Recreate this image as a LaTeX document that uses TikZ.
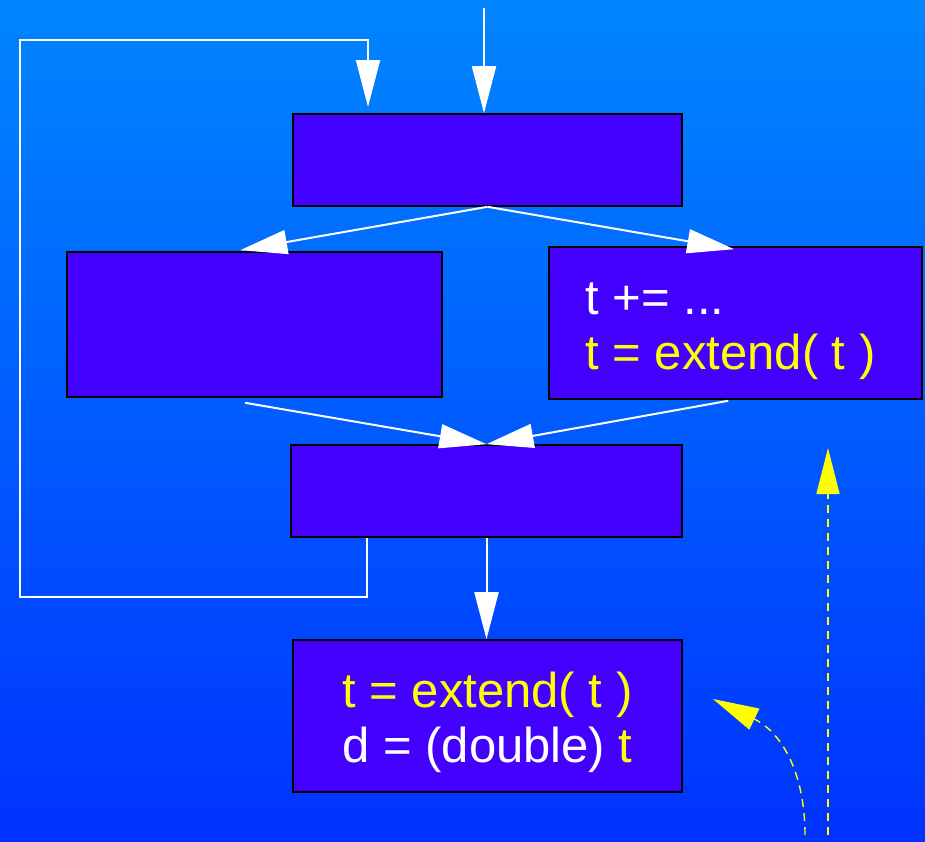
\documentclass[tikz,border=0pt]{standalone}
\usepackage{fontspec}
\setmainfont{Liberation Sans}
\usetikzlibrary{arrows.meta,calc}
\definecolor{bgtop}{RGB}{0,134,255}
\definecolor{bgbot}{RGB}{0,50,255}
\definecolor{boxfill}{RGB}{68,0,255}
\definecolor{codeyellow}{RGB}{255,255,0}
\newcommand{\ystrut}{\rule{0pt}{24.5pt}}
\begin{document}
\begin{tikzpicture}[x=0.5pt,y=-0.5pt,
  box/.style={draw=black,line width=0.8pt,fill=boxfill,rectangle,inner sep=0pt,
    font=\fontsize{24.5pt}{27.5pt}\selectfont,text=white,align=left},
  flow/.style={draw=white,line width=1pt,-{Triangle[length=23.5pt,width=12pt]}},
  hint/.style={draw=codeyellow,line width=0.7pt,dash pattern=on 4pt off 3pt,
    -{Triangle[length=23pt,width=11.5pt]}}]
\shade[top color=bgtop,bottom color=bgbot] (0,0) rectangle (925,841);
\useasboundingbox (0,0) rectangle (925,841);
\node[box,minimum width=194.5pt,minimum height=46pt] (box1) at (487.5,160) {};
\node[box,minimum width=187.5pt,minimum height=72.5pt] (box2) at (254.5,324.5) {};
\node[box,minimum width=186.5pt,minimum height=76pt] (box3) at (735.5,323)
  {\ystrut t += ...\\{\color{codeyellow}t = extend( t )}\rule{5pt}{0pt}};
\node[box,minimum width=195.5pt,minimum height=46pt] (box4) at (486.5,491) {};
\node[box,minimum width=194.5pt,minimum height=76pt] (box5) at (487.5,716)
  {\ystrut{\color{codeyellow}t = extend( t )}\\d = (double) {\color{codeyellow}t}};
% entry arrow
\coordinate (entry) at (484,8);
\draw[flow] (entry) -- (entry |- box1.north);
% loop back
\coordinate (loopstart) at ($(box4.south west)+(77,0)$);
\coordinate (loopend) at (368,107);
\draw[flow] (loopstart) -- ++(0,59) -| (20,40) -| (loopend);
% split
\draw[flow] (box1.south) -- ($(box2.north west)+(174,-1)$);
\draw[flow] (box1.south) -- ($(box3.north west)+(186,3)$);
% join
\draw[flow] ($(box2.south west)+(179,5)$) -- (box4.north);
\draw[flow] ($(box3.south west)+(180,1)$) -- (box4.north);
% down
\draw[flow] (box4.south) -- (box4.south |- box5.north);
% yellow hints
\coordinate (hintA) at (828,835);
\coordinate (hintAend) at (828,448);
\draw[hint] (hintA) -- (hintAend);
\coordinate (hintB) at (805,835);
\coordinate (hintBend) at (713,699);
\draw[hint] (hintB) .. controls (805,775) and (783,733) .. (hintBend);
\end{tikzpicture}
\end{document}
